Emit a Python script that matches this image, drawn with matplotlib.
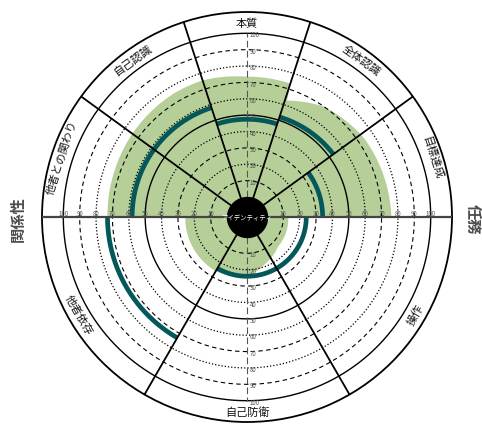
import numpy as np
import matplotlib
matplotlib.use('Agg')
import matplotlib.pyplot as plt

plt.rcParams['font.family'] = ['Noto Sans CJK JP', 'DejaVu Sans']

# sectors (counter-clockwise from the right)
sector_labels = ['目標達成', '全体認識', '本質', '自己認識', '他者との関わり', '他者依存', '自己防衛', '操作']
sector_edges = [0, 36, 72, 108, 144, 180, 240, 300, 360]

# green zone outline: angle (deg) and score
zone_angles = [0, 34, 55, 71, 72, 90, 108, 120, 140, 160, 180, 180, 240, 270, 291, 316, 358, 360]
zone_scores = [76, 74, 70, 63, 73.5, 73.5, 75.5, 75.5, 74.5, 73.5, 73, 25.5, 26, 24, 18.5, 14, 13, 13]

# dark arcs: start angle, end angle, score at start, score at end
arc_start = [0, 36, 72, 108, 180, 240]
arc_end = [36, 72, 108, 180, 240, 360]
arc_score_a = [34, 53, 47.5, 58, 73, 24]
arc_score_b = [34, 52, 47.5, 58, 73, 24]

ticks = [10, 20, 30, 40, 50, 60, 70, 80, 90, 100]
center_label = 'アイデンティティ'
left_title = '関係性'
right_title = '任務'

R0 = -12.2   # hole for the centre disc
RMAX = 113   # outer edge of the label ring

fig = plt.figure(figsize=(4.82, 4.27), dpi=100)
ax = fig.add_axes([42 / 482, 4 / 427, 410 / 482, 410 / 427], projection='polar')
ax.set_ylim(R0, RMAX)
ax.set_xticks([])
ax.set_yticks([])
ax.grid(False)
ax.spines['polar'].set_linewidth(1.3)
ax.spines['polar'].set_color('black')

full = np.linspace(0, 2 * np.pi, 721)

# green zone, drawn segment by segment so the steps stay sharp
pts_t, pts_r = [], []
for i in range(len(zone_angles) - 1):
    a, b = zone_angles[i], zone_angles[i + 1]
    n = max(2, int(b - a) * 2 + 2)
    pts_t.extend(np.linspace(a, b, n))
    pts_r.extend(np.linspace(zone_scores[i], zone_scores[i + 1], n))
pts_t = np.deg2rad(pts_t)
ax.fill(np.concatenate([pts_t, [0]]), np.concatenate([pts_r, [0]]),
        color='#b6cf98', lw=0, zorder=1)

# rings
for v in ticks:
    if v in (50, 100):
        ax.plot(full, np.full_like(full, v), color='black', lw=1.0, zorder=3)
    elif v % 20 == 10:
        ax.plot(full, np.full_like(full, v), color='black', lw=0.8,
                linestyle=(0, (4, 3)), zorder=3)
    else:
        ax.plot(full, np.full_like(full, v), color='black', lw=0.9,
                linestyle=(0, (1, 1.6)), zorder=3)

# dark arcs
for a, b, s0, s1 in zip(arc_start, arc_end, arc_score_a, arc_score_b):
    t = np.linspace(a, b, 200)
    ax.plot(np.deg2rad(t), np.linspace(s0, s1, 200), color='#04585a',
            lw=3.4, solid_capstyle='butt', zorder=4)

# spokes
for e in sector_edges[:-1]:
    if e in (0, 180):
        ax.plot([np.deg2rad(e)] * 2, [0, RMAX], color='#444444', lw=1.6, zorder=5)
    else:
        ax.plot([np.deg2rad(e)] * 2, [0, RMAX], color='black', lw=1.3, zorder=5)

# vertical scale line
for e in (90, 270):
    ax.plot([np.deg2rad(e)] * 2, [0, 100], color='#555555', lw=0.8,
            linestyle=(0, (6, 3)), zorder=5)

# tick labels
for v in ticks:
    for e in (0, 180):
        ax.annotate(str(v), (np.deg2rad(e), v), xytext=(0, 2.8),
                    textcoords='offset points', ha='center', va='center',
                    fontsize=4.4, color='#555555', zorder=6)
    for e in (90, 270):
        ax.annotate(str(v), (np.deg2rad(e), v), xytext=(1.8, -0.8),
                    textcoords='offset points', ha='left', va='center',
                    fontsize=4.4, color='#555555', zorder=6)

# sector labels in the outer ring
for lab, a, b in zip(sector_labels, sector_edges[:-1], sector_edges[1:]):
    mid = (a + b) / 2
    rot = mid - 90 if mid < 180 else mid + 90
    ax.text(np.deg2rad(mid), 106.5, lab, rotation=rot, rotation_mode='anchor',
            ha='center', va='center', fontsize=8, color='#111111', zorder=6)

# centre disc
ax.fill_between(full, R0, 0, color='black', zorder=7)
ax.text(0, R0, center_label, ha='center', va='center', fontsize=4.6,
        color='white', zorder=8)

fig.text(17.5 / 482, 1 - 219 / 427, left_title, rotation=90, ha='center', va='center',
         fontsize=11, fontweight='bold', color='#4d4d4d')
fig.text(472.5 / 482, 1 - 219 / 427, right_title, rotation=-90, ha='center', va='center',
         fontsize=11, fontweight='bold', color='#4d4d4d')

fig.savefig('out.png', dpi=100)
